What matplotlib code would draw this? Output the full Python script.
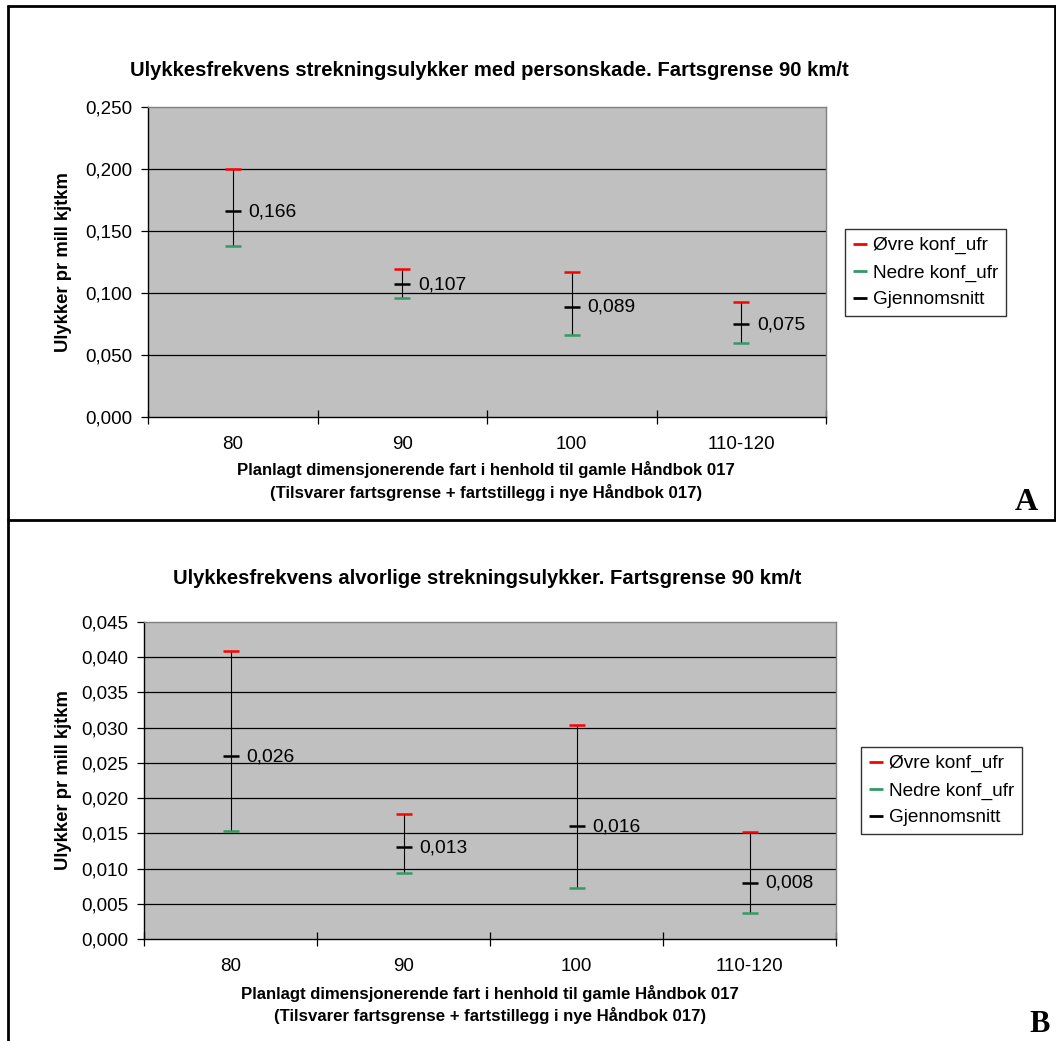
import matplotlib
matplotlib.use("Agg")
import matplotlib.pyplot as plt
from matplotlib.lines import Line2D
from matplotlib.ticker import FuncFormatter, FixedLocator
import numpy as np

plt.rcParams['font.family'] = ['Liberation Sans', 'DejaVu Sans']

categories = ["80", "90", "100", "110-120"]

# Panel A
a_upper = [0.200, 0.119, 0.117, 0.093]
a_lower = [0.138, 0.096, 0.066, 0.060]
a_mean = [0.166, 0.107, 0.089, 0.075]
a_labels = ["0,166", "0,107", "0,089", "0,075"]

# Panel B
b_upper = [0.0409, 0.0177, 0.0304, 0.0152]
b_lower = [0.0154, 0.0094, 0.0073, 0.0037]
b_mean = [0.026, 0.013, 0.016, 0.008]
b_labels = ["0,026", "0,013", "0,016", "0,008"]

series_names = ["Øvre konf_ufr", "Nedre konf_ufr", "Gjennomsnitt"]
colors = ["#FF0000", "#339966", "#000000"]

title_a = "Ulykkesfrekvens strekningsulykker med personskade. Fartsgrense 90 km/t"
title_b = "Ulykkesfrekvens alvorlige strekningsulykker. Fartsgrense 90 km/t"
ylabel = "Ulykker pr mill kjtkm"
xlabel1 = "Planlagt dimensjonerende fart i henhold til gamle Håndbok 017"
xlabel2 = "(Tilsvarer fartsgrense + fartstillegg i nye Håndbok 017)"

W, H = 1056, 1041
fig = plt.figure(figsize=(W / 100, H / 100), dpi=100)


def fx(x):
    return x / W


def fy(y):
    return 1 - y / H


def px_axes(l, t, r, b):
    return fig.add_axes([l / W, 1 - b / H, (r - l) / W, (b - t) / H])


def draw_panel(ax, upper, lower, mean, labels, ymax, ystep, legend_box):
    x = np.arange(len(categories))
    ax.set_facecolor("#C0C0C0")
    ax.set_xlim(-0.5, len(categories) - 0.5)
    ax.set_ylim(0, ymax)
    yt = np.arange(0, ymax + ystep / 2, ystep)
    ax.set_yticks(yt)
    ax.yaxis.set_major_formatter(FuncFormatter(lambda v, p: f"{v:.3f}".replace(".", ",")))
    for v in yt[1:-1]:
        ax.axhline(v, color="#000000", lw=0.9, zorder=1)
    ax.vlines(x, lower, upper, color="black", lw=0.8, zorder=2)
    ax.plot(x, upper, ls="none", marker="_", ms=11.5, mew=1.8, color=colors[0], zorder=3)
    ax.plot(x, lower, ls="none", marker="_", ms=11.5, mew=1.8, color=colors[1], zorder=3)
    ax.plot(x, mean, ls="none", marker="_", ms=11.5, mew=1.8, color=colors[2], zorder=3)
    for xi, m, lab in zip(x, mean, labels):
        ax.annotate(lab, (xi, m), xytext=(11.5, -0.5), textcoords="offset points",
                    va="center", ha="left", fontsize=13.9, zorder=4)
    ax.set_xticks(x)
    ax.set_xticklabels(categories, fontsize=13.5)
    ax.tick_params(axis="x", which="major", length=0, pad=14)
    ax.xaxis.set_minor_locator(FixedLocator(np.arange(-0.5, len(categories), 1.0)))
    ax.tick_params(axis="x", which="minor", length=9.5, direction="inout", width=0.9)
    ax.tick_params(axis="y", length=5, direction="out", width=0.9, labelsize=13.5, pad=6)
    for s in ["top", "right"]:
        ax.spines[s].set_color("#808080")
        ax.spines[s].set_linewidth(1.0)
    for s in ["left", "bottom"]:
        ax.spines[s].set_color("black")
        ax.spines[s].set_linewidth(1.0)
    handles = [Line2D([], [], ls="none", marker="_", ms=10, mew=2, color=c) for c in colors]
    l, t = legend_box
    leg = fig.legend(handles, series_names, loc="upper left", bbox_to_anchor=(fx(l), fy(t)),
                     bbox_transform=fig.transFigure, frameon=True, fancybox=False,
                     edgecolor="black", fontsize=13.7, handlelength=0.75, handletextpad=0.3,
                     borderpad=0.42, labelspacing=0.5, borderaxespad=0)
    leg.get_frame().set_linewidth(1.0)


def panel_texts(title, title_cx, title_y, ax_top, ax_bot, xl1_y, xl2_y, xl_cx):
    fig.text(fx(title_cx), fy(title_y), title, ha="center", va="center",
             fontsize=14.6, fontweight="bold")
    fig.text(fx(64), fy((ax_top + ax_bot) / 2), ylabel, rotation=90, ha="center",
             va="center", fontsize=13.3, fontweight="bold")
    fig.text(fx(xl_cx), fy(xl1_y), xlabel1, ha="center", va="center",
             fontsize=12.1, fontweight="bold")
    fig.text(fx(xl_cx), fy(xl2_y), xlabel2, ha="center", va="center",
             fontsize=12.1, fontweight="bold")


axA = px_axes(148, 107, 826, 417)
draw_panel(axA, a_upper, a_lower, a_mean, a_labels, 0.25, 0.05, (845, 229))
panel_texts(title_a, 489, 71, 107, 417, 469, 492, 486)

axB = px_axes(144, 622, 836, 939)
draw_panel(axB, b_upper, b_lower, b_mean, b_labels, 0.045, 0.005, (861, 747))
panel_texts(title_b, 487, 578, 622, 939, 993, 1015, 490)

# panel frames
lw = 2.0


def hline(y, x0, x1):
    fig.add_artist(Line2D([fx(x0), fx(x1)], [fy(y), fy(y)], color="black", lw=lw,
                          transform=fig.transFigure, solid_capstyle="butt"))


def vline(x, y0, y1):
    fig.add_artist(Line2D([fx(x), fx(x)], [fy(y0), fy(y1)], color="black", lw=lw,
                          transform=fig.transFigure, solid_capstyle="butt"))


hline(6, 7, 1056)
hline(520, 7, 1056)
vline(7.5, 5, 1041)
vline(1055, 5, 520)

fig.text(fx(1026), fy(503), "A", ha="center", va="center", fontsize=23,
         fontweight="bold", family="Liberation Serif")
fig.text(fx(1040), fy(1024), "B", ha="center", va="center", fontsize=22,
         fontweight="bold", family="Liberation Serif")

fig.savefig("out.png", dpi=100, facecolor="white")
